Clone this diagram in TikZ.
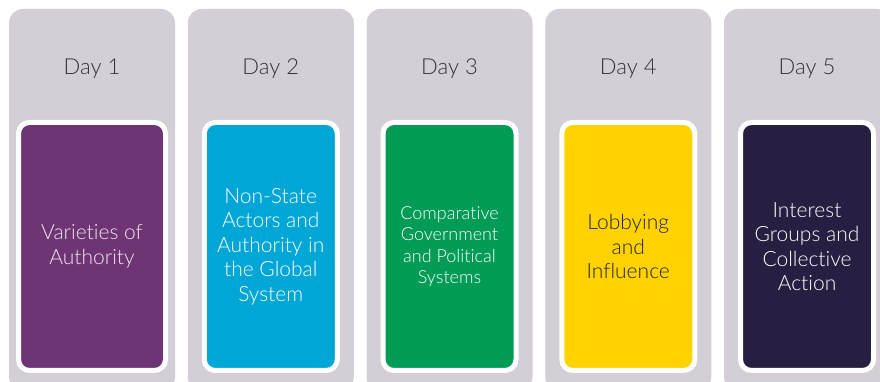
\documentclass[tikz,border=0pt]{standalone}
\usepackage{fontspec}
\setmainfont[Ligatures=NoCommon]{Lato Light}
\usetikzlibrary{positioning}

\definecolor{colgrey}{HTML}{D4CED6}
\definecolor{daygrey}{HTML}{333333}
\definecolor{daypurple}{HTML}{6E3473}
\definecolor{dayblue}{HTML}{00A6D6}
\definecolor{daygreen}{HTML}{009B55}
\definecolor{dayyellow}{HTML}{FFD200}
\definecolor{daynavy}{HTML}{261F41}

\begin{document}
\begin{tikzpicture}[x=1pt, y=1pt, node distance=178.75pt]

    % Define block styles
    \tikzstyle{column} = [rectangle, fill=colgrey, minimum width=166pt,
        minimum height=382pt, rounded corners=14pt, inner sep=0pt]
    \tikzstyle{day} = [text=daygrey, font=\fontsize{22}{26}\selectfont]
    \tikzstyle{topic} = [rectangle, draw=white, line width=5pt, text=white,
        minimum width=133pt, minimum height=248pt, rounded corners=11pt,
        align=center, font=\fontsize{21}{24.5}\selectfont]

    \path[use as bounding box, clip] (0,0) rectangle (880,382);

    % Define nodes
    \node [column] (col1) at (92,182) {};
    \node [column, right of=col1] (col2) {};
    \node [column, right of=col2] (col3) {};
    \node [column, right of=col3] (col4) {};
    \node [column, right of=col4] (col5) {};

    \node [day, above of=col1, node distance=131pt] (day1) {Day 1};
    \node [day, above of=col2, node distance=131pt] (day2) {Day 2};
    \node [day, above of=col3, node distance=131pt] (day3) {Day 3};
    \node [day, above of=col4, node distance=131pt] (day4) {Day 4};
    \node [day, above of=col5, node distance=131pt] (day5) {Day 5};

    \node [topic, fill=daypurple, minimum width=147pt, text=white!88!daypurple,
        below of=col1, node distance=46.5pt] (topic1) {Varieties of\\Authority};
    \node [topic, fill=dayblue, below of=col2, node distance=46.5pt] (topic2)
        {Non-State\\Actors and\\Authority in\\the Global\\System};
    \node [topic, fill=daygreen, font=\fontsize{18}{21.5}\selectfont,
        below of=col3, node distance=46.5pt] (topic3)
        {Comparative\\Government\\and Political\\Systems};
    \node [topic, fill=dayyellow, text=black!85,
        below of=col4, node distance=46.5pt] (topic4) {Lobbying\\and\\Influence};
    \node [topic, fill=daynavy, below of=col5, node distance=46.5pt] (topic5)
        {Interest\\Groups and\\Collective\\Action};

\end{tikzpicture}
\end{document}
